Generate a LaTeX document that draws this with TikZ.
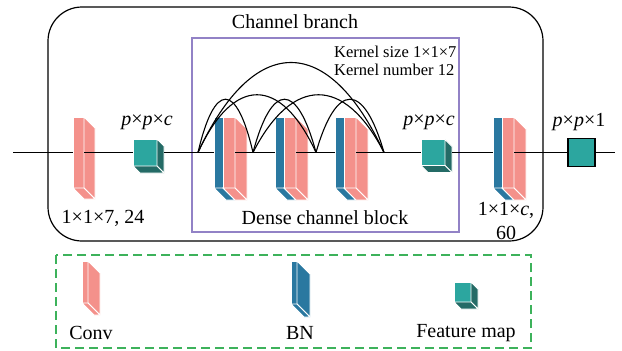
\documentclass[tikz,border=0pt]{standalone}
\usepackage{fontspec}
\setmainfont{Liberation Serif}
\usetikzlibrary{positioning}
\usetikzlibrary{calc}

\definecolor{convpink}{HTML}{F4918B}
\definecolor{bnblue}{HTML}{2A78A0}
\definecolor{fmteal}{HTML}{2CA69F}
\definecolor{fmdark}{HTML}{246B66}
\definecolor{boxpurple}{HTML}{9282C6}
\definecolor{legendgreen}{HTML}{3DB25B}

\tikzset{face/.style={
		rectangle,
		draw=white,
		line width=0.8pt,
		inner sep = 0pt,
		outer sep = 0pt,
	}
}
\tikzset{conv/.style={
		face,
		fill=convpink,
		minimum width=12pt,
		minimum height=71pt,
	}
}
\tikzset{bn/.style={
		face,
		fill=bnblue,
		minimum width=9pt,
		minimum height=71pt,
	}
}
\tikzset{fmap/.style={
		face,
		fill=fmteal,
		minimum width=24pt,
		minimum height=27pt,
	}
}
\tikzset{fmout/.style={
		rectangle,
		draw=black,
		line width=1.2pt,
		fill=fmteal,
		inner sep = 0pt,
		minimum width=27pt,
		minimum height=28pt,
	}
}
\tikzset{line/.style={
		draw,
		line width=1.1pt,
	}
}
\tikzset{arcline/.style={
		draw,
		line width=1.1pt,
	}
}
\tikzset{kernel/.style={
		font=\rmfamily\fontsize{16.5}{18}\selectfont,
		inner sep=0pt,
	}
}

% side and bottom faces of a block: node, depth, colour
\newcommand{\depthfaces}[3]{
	\filldraw[fill=#3, draw=white, line width=0.8pt] (#1.north east) -- ++(#2,#2) -- ($(#1.south east)+(#2,#2)$) -- (#1.south east) -- cycle;
	\filldraw[fill=#3, draw=white, line width=0.8pt] (#1.south west) -- (#1.south east) -- ++(#2,#2) -- ($(#1.south west)+(#2,#2)$) -- cycle;
}
\newcommand{\bottomface}[3]{
	\filldraw[fill=#3, draw=white, line width=0.8pt] (#1.south west) -- (#1.south east) -- ++(#2,#2) -- ($(#1.south west)+(#2,#2)$) -- cycle;
}
% dense connection arc: from, to, control height
\newcommand{\skipconn}[3]{
	\draw[arcline] (#1) .. controls ($(#1)!0.3!(#2)+(0,-#3)$) and ($(#1)!0.7!(#2)+(0,-#3)$) .. (#2);
}

\begin{document}
\begin{tikzpicture}[x=1pt, y=-1pt, font=\rmfamily\fontsize{20}{24}\selectfont]
\useasboundingbox (0,0) rectangle (622,351);

% frames
\draw[line width=1.2pt, rounded corners=34pt] (48,7) rectangle (543,241);
\draw[boxpurple, line width=1.3pt] (192,38) rectangle (459,232);
\draw[legendgreen, line width=2.4pt, dash pattern=on 9pt off 5pt] (56,255) rectangle (531,348);

% main path points
\coordinate (in) at (13,152.5);
\coordinate (outend) at (615,152.5);
\foreach \x [count=\i from 0] in {198,253,316,384} {
	\coordinate (j\i) at (\x,152.5);
}

% first conv
\node[conv, minimum width=11pt] (c0) at (78.5,152.5) {};
\depthfaces{c0}{11}{convpink}

% first feature map
\node[fmap] (f1) at (145,152.5) {};
\depthfaces{f1}{7}{fmdark}

% dense channel block
\foreach \x [count=\i] in {218.5,279.5,339.5} {
	\node[bn] (b\i) at (\x,152.5) {};
	\node[conv, right=0pt of b\i] (d\i) {};
	\bottomface{b\i}{12}{bnblue}
	\depthfaces{d\i}{12}{convpink}
}

% second feature map
\node[fmap, minimum height=26pt] (f2) at (433,152.5) {};
\depthfaces{f2}{7}{fmdark}

% last conv
\node[bn] (b4) at (497.5,152.5) {};
\node[conv, right=0pt of b4] (d4) {};
\bottomface{b4}{12}{bnblue}
\depthfaces{d4}{12}{convpink}

% output
\node[fmout] (out) at (581.5,152.5) {};

% main line
\draw[line] (in) -- (c0.west);
\draw[line] (c0.east) -- (f1.west);
\draw[line, shorten <=7pt] (f1.east) -- (j0);
\draw[line] (j0) -- (b1.west);
\draw[line] (d1.east) -- (j1) -- (b2.west);
\draw[line] (d2.east) -- (j2) -- (b3.west);
\draw[line] (d3.east) -- (j3) -- (f2.west);
\draw[line, shorten <=7pt] (f2.east) -- (b4.west);
\draw[line] (d4.east) -- (out.west);
\draw[line] (out.east) -- (outend);

% dense connections
\skipconn{j0}{j1}{71}
\skipconn{j1}{j2}{71}
\skipconn{j2}{j3}{71}
\skipconn{j0}{j2}{77}
\skipconn{j1}{j3}{77}
\skipconn{j0}{j3}{120}

% labels
\node (title) at (295,22) {Channel branch};
\node[kernel, align=left, anchor=west] (kinfo) at (334,61) {Kernel size 1×1×7\\Kernel number 12};
\node (f1size) at (147,122) {\textit{p}×\textit{p}×\textit{c}};
\node (f2size) at (429,122) {\textit{p}×\textit{p}×\textit{c}};
\node (outsize) at (579,122) {\textit{p}×\textit{p}×1};
\node (c0size) at (103,218) {1×1×7, 24};
\node (dense) at (325,218) {Dense channel block};
\node[align=center, inner sep=0pt] (d4size) at (506,221) {1×1×\textit{c},\\60};

% legend
\node[conv, minimum width=6pt, minimum height=42pt] (lconv) at (85,282) {};
\depthfaces{lconv}{12}{convpink}
\node[bn, minimum width=6pt, minimum height=43pt] (lbn) at (294,282.5) {};
\depthfaces{lbn}{13}{bnblue}
\node[fmap, minimum width=17pt, minimum height=20pt] (lfm) at (462.5,292) {};
\depthfaces{lfm}{7}{fmdark}
\node (lconvtext) at (91,333) {Conv};
\node (lbntext) at (300,333) {BN};
\node (lfmtext) at (466,333) {Feature map};

\end{tikzpicture}
\end{document}
